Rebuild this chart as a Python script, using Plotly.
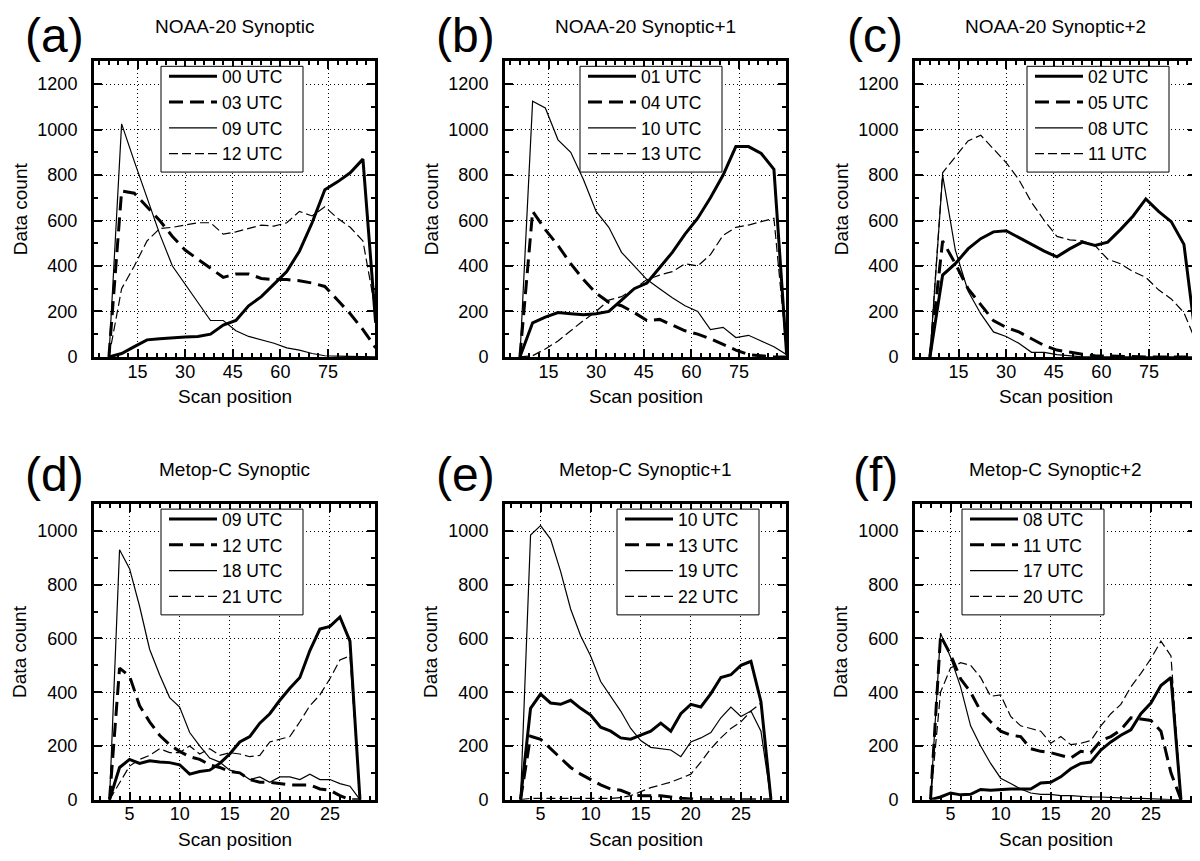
import plotly.graph_objects as go

# scan positions (NOAA-20 ATMS thinned, Metop-C)
scan_noaa = [6, 10, 14, 18, 22, 26, 30, 34, 38, 42, 46, 50, 54, 58, 62, 66, 70, 74, 78, 82, 86, 90]
scan_metop = [3, 4, 5, 6, 7, 8, 9, 10, 11, 12, 13, 14, 15, 16, 17, 18, 19, 20, 21, 22, 23, 24, 25, 26, 27, 28]

# (a) NOAA-20 Synoptic
a_00 = [0, 15, 45, 75, 80, 85, 88, 90, 100, 140, 160, 225, 265, 320, 375, 465, 590, 735, 770, 810, 870, 150]
a_03 = [0, 730, 720, 660, 600, 530, 470, 430, 390, 350, 365, 365, 345, 340, 340, 335, 325, 310, 250, 190, 120, 40]
a_09 = [0, 1025, 860, 700, 540, 400, 320, 240, 160, 160, 115, 90, 75, 60, 40, 30, 15, 5, 3, 2, 0, 0]
a_12 = [0, 300, 400, 510, 565, 570, 580, 590, 590, 540, 550, 565, 580, 575, 590, 640, 620, 660, 610, 570, 510, 200]

# (b) NOAA-20 Synoptic+1
b_01 = [0, 150, 175, 195, 190, 185, 190, 200, 250, 300, 325, 390, 460, 540, 610, 700, 800, 925, 925, 895, 825, 10]
b_04 = [0, 640, 560, 490, 410, 340, 280, 240, 225, 195, 160, 165, 140, 115, 100, 80, 55, 30, 10, 5, 0, 0]
b_10 = [0, 1125, 1095, 955, 900, 780, 640, 570, 460, 400, 340, 300, 260, 225, 200, 120, 130, 85, 95, 70, 45, 10]
b_13 = [0, 5, 35, 70, 115, 160, 200, 250, 265, 300, 340, 360, 375, 410, 400, 450, 535, 570, 580, 595, 610, 20]

# (c) NOAA-20 Synoptic+2
c_02 = [0, 360, 410, 475, 520, 550, 555, 525, 495, 465, 440, 475, 505, 490, 505, 560, 620, 695, 640, 595, 495, 50]
c_05 = [0, 510, 410, 300, 230, 160, 130, 110, 80, 50, 30, 20, 12, 5, 3, 2, 1, 0, 0, 0, 0, 0]
c_08 = [0, 800, 470, 290, 190, 110, 90, 60, 20, 20, 10, 5, 0, 0, 0, 0, 0, 0, 0, 0, 0, 0]
c_11 = [0, 810, 880, 950, 975, 915, 855, 780, 680, 600, 530, 515, 510, 490, 430, 410, 375, 350, 295, 255, 195, 60]

# (d) Metop-C Synoptic
d_09 = [0, 120, 150, 135, 145, 140, 138, 130, 95, 105, 110, 135, 170, 215, 235, 285, 320, 370, 415, 455, 555, 635, 645, 680, 590, 0]
d_12 = [0, 490, 460, 350, 290, 240, 205, 180, 160, 150, 130, 120, 105, 100, 75, 65, 65, 60, 55, 55, 55, 40, 35, 15, 0, 0]
d_18 = [0, 930, 860, 720, 560, 465, 380, 345, 250, 200, 155, 140, 110, 100, 75, 85, 65, 85, 85, 75, 95, 75, 75, 60, 50, 0]
d_21 = [0, 65, 125, 150, 165, 190, 175, 175, 200, 170, 190, 165, 175, 170, 160, 165, 215, 225, 235, 290, 350, 390, 450, 520, 535, 0]

# (e) Metop-C Synoptic+1
e_10 = [0, 340, 393, 360, 355, 370, 340, 315, 270, 255, 230, 225, 240, 255, 285, 255, 320, 355, 345, 395, 455, 465, 500, 515, 365, 0]
e_13 = [0, 236, 225, 190, 155, 120, 95, 75, 55, 40, 35, 20, 15, 15, 15, 10, 5, 3, 0, 0, 0, 0, 0, 0, 0, 0]
e_19 = [0, 985, 1020, 970, 850, 710, 610, 535, 440, 385, 330, 265, 220, 195, 190, 185, 160, 215, 230, 250, 305, 345, 310, 330, 255, 0]
e_22 = [0, 5, 5, 5, 5, 5, 5, 5, 5, 5, 8, 15, 30, 45, 55, 65, 80, 95, 140, 190, 230, 265, 290, 330, 360, 0]

# (f) Metop-C Synoptic+2
f_08 = [0, 10, 25, 18, 20, 38, 35, 38, 40, 40, 40, 62, 65, 85, 115, 135, 140, 185, 215, 240, 260, 320, 360, 425, 455, 0]
f_11 = [0, 610, 540, 450, 400, 330, 290, 255, 240, 235, 190, 180, 175, 165, 155, 180, 175, 220, 235, 260, 305, 300, 295, 255, 100, 0]
f_17 = [0, 620, 530, 420, 275, 200, 135, 80, 60, 40, 25, 20, 20, 15, 15, 12, 10, 10, 8, 6, 5, 5, 3, 2, 0, 0]
f_20 = [0, 400, 490, 510, 500, 455, 385, 390, 310, 275, 265, 255, 210, 235, 205, 210, 220, 275, 320, 355, 420, 470, 525, 590, 535, 0]

titles = ["NOAA-20 Synoptic", "NOAA-20 Synoptic+1", "NOAA-20 Synoptic+2",
          "Metop-C Synoptic", "Metop-C Synoptic+1", "Metop-C Synoptic+2"]
letters = ["(a)", "(b)", "(c)", "(d)", "(e)", "(f)"]
utc_labels = [["00 UTC", "03 UTC", "09 UTC", "12 UTC"],
              ["01 UTC", "04 UTC", "10 UTC", "13 UTC"],
              ["02 UTC", "05 UTC", "08 UTC", "11 UTC"],
              ["09 UTC", "12 UTC", "18 UTC", "21 UTC"],
              ["10 UTC", "13 UTC", "19 UTC", "22 UTC"],
              ["08 UTC", "11 UTC", "17 UTC", "20 UTC"]]
series = [[a_00, a_03, a_09, a_12], [b_01, b_04, b_10, b_13], [c_02, c_05, c_08, c_11],
          [d_09, d_12, d_18, d_21], [e_10, e_13, e_19, e_22], [f_08, f_11, f_17, f_20]]

W, H = 1200, 861
FONT = "Liberation Sans, Arial, Helvetica, sans-serif"

# plot boxes in pixels (left, right, top, bottom)
cols = [(86, 367), (497, 778), (907, 1188)]
rows = [(54, 353), (502, 801)]
letter_tops = [0, 444]
# legend box corners in pixels (left, top), size
legend_pos = [(153, 59), (572, 59), (1019, 59), (153, 507), (609, 507), (954, 507)]
LEG_W, LEG_H = 142, 107

# line styles: thick solid, thick dash, thin solid, thin dash
styles = [dict(width=3, dash="solid"), dict(width=3, dash="14px,7px"),
          dict(width=1.2, dash="solid"), dict(width=1.2, dash="9px,4px")]

fig = go.Figure()
annotations = []
shapes = []

for i in range(6):
    r, c = divmod(i, 3)
    left, right = cols[c]
    top, bottom = rows[r]
    n = "" if i == 0 else str(i + 1)
    xname, yname = "x" + n, "y" + n
    legname = "legend" + n

    xs = scan_noaa if r == 0 else scan_metop
    for k in range(4):
        fig.add_trace(go.Scatter(
            x=xs, y=series[i][k], mode="lines", name=utc_labels[i][k],
            line=dict(color="black", **styles[k]),
            xaxis=xname, yaxis=yname, legend=legname,
        ))

    common = dict(
        showline=True, linewidth=3, linecolor="black", mirror="ticks",
        ticks="inside", ticklen=8, tickwidth=2, tickcolor="black",
        showgrid=True, gridcolor="black", gridwidth=1, griddash="1px,3px",
        zeroline=False, tickfont=dict(size=18, family=FONT, color="black"),
    )
    if r == 0:
        xr, xd, xm = [1.3, 89.8], 15, 3
        yr = [0, 1300]
    else:
        xr, xd, xm = [1.45, 29.5], 5, 1
        yr = [0, 1100]

    fig.layout["xaxis" + n] = dict(
        domain=[left / W, right / W], anchor=yname, range=xr, tick0=0, dtick=xd,
        minor=dict(dtick=xm, tick0=0, ticks="inside", ticklen=4, tickwidth=1.5,
                   tickcolor="black", showgrid=False),
        ticklabelstandoff=-4, **common,
    )
    fig.layout["yaxis" + n] = dict(
        domain=[1 - bottom / H, 1 - top / H], anchor=xname, range=yr, tick0=0, dtick=200,
        minor=dict(dtick=100, tick0=0, ticks="inside", ticklen=4, tickwidth=1.5,
                   tickcolor="black", showgrid=False),
        ticklabelstandoff=10, **common,
    )

    # legend frame, then a transparent legend inside it
    lx, ly = legend_pos[i]
    shapes.append(dict(type="rect", xref="paper", yref="paper",
                       x0=lx / W, x1=(lx + LEG_W) / W,
                       y0=1 - (ly + LEG_H) / H, y1=1 - ly / H,
                       fillcolor="white", line=dict(color="black", width=1), layer="above"))
    fig.layout[legname] = dict(
        x=(lx + 3) / W, y=1 - (ly - 8) / H, xanchor="left", yanchor="top",
        xref="paper", yref="paper",
        bgcolor="rgba(0,0,0,0)", borderwidth=0, itemwidth=48,
        font=dict(size=17.5, family=FONT, color="black"),
        tracegroupgap=0,
    )

    cx = (left + right) / 2
    cy = (top + bottom) / 2
    annotations.append(dict(text=letters[i], x=(left - 40) / W, y=1 - letter_tops[r] / H,
                            xref="paper", yref="paper", showarrow=False, borderpad=0,
                            xanchor="center", yanchor="top",
                            font=dict(size=48, family=FONT, color="black")))
    annotations.append(dict(text=titles[i], x=cx / W, y=1 - (top - 35) / H,
                            xref="paper", yref="paper", showarrow=False,
                            xanchor="center", yanchor="middle",
                            font=dict(size=19, family=FONT, color="black")))
    annotations.append(dict(text="Data count", x=(left - 74) / W, y=1 - cy / H,
                            xref="paper", yref="paper", showarrow=False, textangle=-90,
                            xanchor="center", yanchor="middle",
                            font=dict(size=19, family=FONT, color="black")))
    annotations.append(dict(text="Scan position", x=cx / W, y=1 - (bottom + 40) / H,
                            xref="paper", yref="paper", showarrow=False,
                            xanchor="center", yanchor="middle",
                            font=dict(size=19, family=FONT, color="black")))

fig.update_layout(
    width=W, height=H,
    margin=dict(l=0, r=0, t=0, b=0),
    paper_bgcolor="white", plot_bgcolor="white",
    showlegend=True,
    annotations=annotations,
    shapes=shapes,
    font=dict(family=FONT, color="black"),
)

fig.write_html("out.html")
